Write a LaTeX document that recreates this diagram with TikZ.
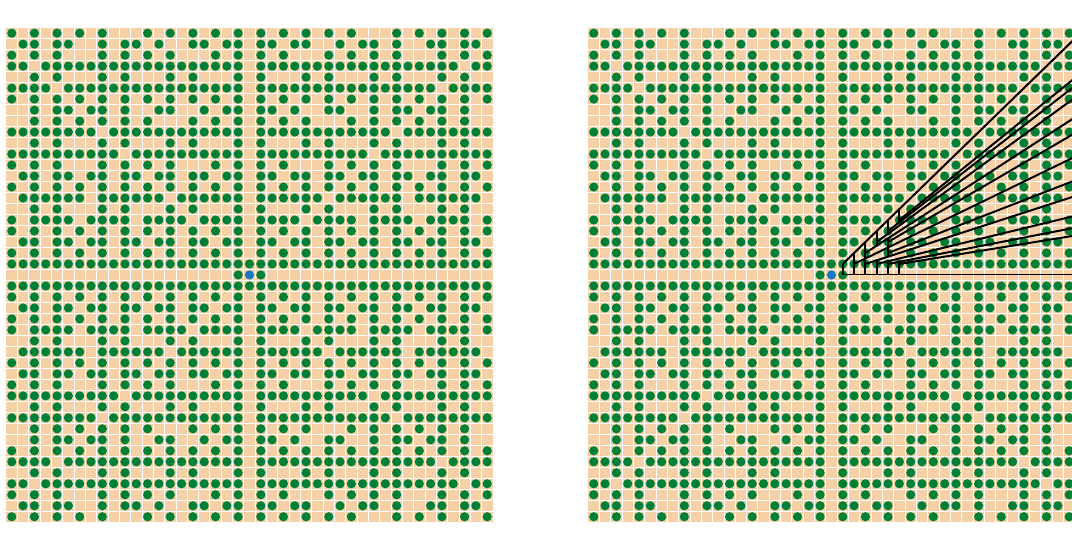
\documentclass[tikz,border=0pt]{standalone}
\usetikzlibrary{calc}

\definecolor{tile}{RGB}{246,208,166}
\definecolor{treegreen}{RGB}{0,128,54}
\definecolor{eyeblue}{RGB}{24,121,196}

\begin{document}
\begin{tikzpicture}[
  x=8.49pt, y=8.2425pt,
  tree/.style={fill=treegreen},
  viewer/.style={fill=eyeblue},
  seam/.style={white, line width=0.6pt},
  sight/.style={black, line width=1.5pt, line join=round}
]
% whole frame, 1072 x 536 px
\useasboundingbox (-22.04,-23.75) rectangle (72.66,25.02);
\clip (-22.04,-23.75) rectangle (72.66,25.02);

% the two orchards
\foreach \ox/\oname in {0/left, 51.41/right} {
  \begin{scope}[shift={(\ox,0)}]
    \coordinate (\oname) at (0,0);
    \fill[tile] (-21.5,-22.5) rectangle (21.5,22.5);
    \foreach \i in {-20.5,...,20.5} \draw[seam] (\i,-22.5) -- (\i,22.5);
    \foreach \j in {-21.5,...,21.5} \draw[seam] (-21.5,\j) -- (21.5,\j);
    \foreach \i in {-21,...,21} {
      \foreach \j in {-22,...,22} {
        \pgfmathtruncatemacro\g{gcd(abs(\i),abs(\j))}
        \ifnum\g=1 \fill[tree] (\i,\j) circle[radius=3.45pt]; \fi
      }
    }
    \fill[viewer] (0,0) circle[radius=3.45pt];
  \end{scope}
}

% lines of sight in the right orchard (Farey fractions up to 6)
\begin{scope}[shift={(right)}]
  \clip (0,0) rectangle (21.5,22.5);
  % each new ray p/q splits the gap between its two neighbours at x=q
  \foreach \q/\lo/\hi in {1/0/1, 2/0/2, 3/0/3, 4/0/1.3333, 4/2.6667/4,
                          5/0/1.25, 5/1.6667/3.3333, 5/3.75/5, 6/0/1.2, 6/4.8/6}
    \draw[sight] (\q,\lo) -- (\q,\hi);
  \draw[sight] (1,0) -- (30,0);
  \foreach \q in {1,...,6} {
    \foreach \p in {1,...,\q} {
      \pgfmathtruncatemacro\g{gcd(\p,\q)}
      \ifnum\g=1 \draw[sight] (\q,\p) -- ($(0,0)!30/\q!(\q,\p)$); \fi
    }
  }
\end{scope}
\end{tikzpicture}
\end{document}
